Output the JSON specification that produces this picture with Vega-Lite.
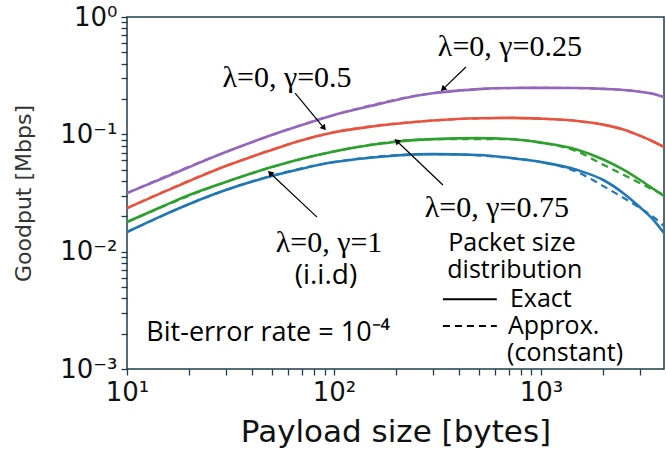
{
 "$schema": "https://vega.github.io/schema/vega-lite/v6.json",
 "width": 537, "height": 352,
 "autosize": {"type": "none"},
 "padding": {"left": 127, "top": 17, "right": 2, "bottom": 88},
 "background": "white",
 "config": {"view": {"stroke": "#1e3c4a", "strokeWidth": 1.5}},
 "datasets": {
  "curves": [
   {"x":10,"y":0.0316,"s":"0.25","t":"Exact"},{"x":15,"y":0.0424,"s":"0.25","t":"Exact"},{"x":20,"y":0.0526,"s":"0.25","t":"Exact"},{"x":30,"y":0.0706,"s":"0.25","t":"Exact"},{"x":50,"y":0.0986,"s":"0.25","t":"Exact"},{"x":70,"y":0.120,"s":"0.25","t":"Exact"},{"x":100,"y":0.146,"s":"0.25","t":"Exact"},{"x":150,"y":0.174,"s":"0.25","t":"Exact"},{"x":200,"y":0.196,"s":"0.25","t":"Exact"},{"x":250,"y":0.213,"s":"0.25","t":"Exact"},{"x":300,"y":0.224,"s":"0.25","t":"Exact"},{"x":400,"y":0.236,"s":"0.25","t":"Exact"},{"x":500,"y":0.243,"s":"0.25","t":"Exact"},{"x":700,"y":0.248,"s":"0.25","t":"Exact"},{"x":1000,"y":0.249,"s":"0.25","t":"Exact"},{"x":1500,"y":0.248,"s":"0.25","t":"Exact"},{"x":2000,"y":0.244,"s":"0.25","t":"Exact"},{"x":2500,"y":0.239,"s":"0.25","t":"Exact"},{"x":3000,"y":0.231,"s":"0.25","t":"Exact"},{"x":3500,"y":0.221,"s":"0.25","t":"Exact"},{"x":3930,"y":0.208,"s":"0.25","t":"Exact"},
   {"x":10,"y":0.0235,"s":"0.5","t":"Exact"},{"x":15,"y":0.0322,"s":"0.5","t":"Exact"},{"x":20,"y":0.0400,"s":"0.5","t":"Exact"},{"x":30,"y":0.0537,"s":"0.5","t":"Exact"},{"x":50,"y":0.0735,"s":"0.5","t":"Exact"},{"x":70,"y":0.0890,"s":"0.5","t":"Exact"},{"x":100,"y":0.104,"s":"0.5","t":"Exact"},{"x":150,"y":0.116,"s":"0.5","t":"Exact"},{"x":200,"y":0.123,"s":"0.5","t":"Exact"},{"x":300,"y":0.131,"s":"0.5","t":"Exact"},{"x":500,"y":0.137,"s":"0.5","t":"Exact"},{"x":700,"y":0.138,"s":"0.5","t":"Exact"},{"x":1000,"y":0.136,"s":"0.5","t":"Exact"},{"x":1500,"y":0.130,"s":"0.5","t":"Exact"},{"x":2000,"y":0.121,"s":"0.5","t":"Exact"},{"x":2500,"y":0.110,"s":"0.5","t":"Exact"},{"x":3000,"y":0.0975,"s":"0.5","t":"Exact"},{"x":3500,"y":0.0865,"s":"0.5","t":"Exact"},{"x":3930,"y":0.0779,"s":"0.5","t":"Exact"},
   {"x":10,"y":0.0179,"s":"0.75","t":"Exact"},{"x":15,"y":0.0245,"s":"0.75","t":"Exact"},{"x":20,"y":0.0304,"s":"0.75","t":"Exact"},{"x":30,"y":0.0392,"s":"0.75","t":"Exact"},{"x":50,"y":0.0526,"s":"0.75","t":"Exact"},{"x":70,"y":0.0620,"s":"0.75","t":"Exact"},{"x":100,"y":0.0715,"s":"0.75","t":"Exact"},{"x":150,"y":0.0810,"s":"0.75","t":"Exact"},{"x":200,"y":0.0865,"s":"0.75","t":"Exact"},{"x":300,"y":0.0910,"s":"0.75","t":"Exact"},{"x":500,"y":0.0928,"s":"0.75","t":"Exact"},{"x":700,"y":0.0912,"s":"0.75","t":"Exact"},{"x":1000,"y":0.0850,"s":"0.75","t":"Exact"},{"x":1500,"y":0.0740,"s":"0.75","t":"Exact"},{"x":2000,"y":0.0610,"s":"0.75","t":"Exact"},{"x":2500,"y":0.0500,"s":"0.75","t":"Exact"},{"x":3000,"y":0.0410,"s":"0.75","t":"Exact"},{"x":3500,"y":0.0342,"s":"0.75","t":"Exact"},{"x":3930,"y":0.0298,"s":"0.75","t":"Exact"},
   {"x":10,"y":0.0147,"s":"1","t":"Exact"},{"x":15,"y":0.0205,"s":"1","t":"Exact"},{"x":20,"y":0.0255,"s":"1","t":"Exact"},{"x":30,"y":0.0335,"s":"1","t":"Exact"},{"x":50,"y":0.0441,"s":"1","t":"Exact"},{"x":70,"y":0.0510,"s":"1","t":"Exact"},{"x":100,"y":0.0580,"s":"1","t":"Exact"},{"x":150,"y":0.0632,"s":"1","t":"Exact"},{"x":200,"y":0.0660,"s":"1","t":"Exact"},{"x":300,"y":0.0678,"s":"1","t":"Exact"},{"x":500,"y":0.0667,"s":"1","t":"Exact"},{"x":700,"y":0.0632,"s":"1","t":"Exact"},{"x":1000,"y":0.0581,"s":"1","t":"Exact"},{"x":1500,"y":0.0496,"s":"1","t":"Exact"},{"x":2000,"y":0.0408,"s":"1","t":"Exact"},{"x":2500,"y":0.0315,"s":"1","t":"Exact"},{"x":3000,"y":0.0240,"s":"1","t":"Exact"},{"x":3500,"y":0.0186,"s":"1","t":"Exact"},{"x":3930,"y":0.0144,"s":"1","t":"Exact"},
   {"x":10,"y":0.0316,"s":"0.25","t":"Approx"},{"x":30,"y":0.0706,"s":"0.25","t":"Approx"},{"x":100,"y":0.146,"s":"0.25","t":"Approx"},{"x":300,"y":0.224,"s":"0.25","t":"Approx"},{"x":700,"y":0.248,"s":"0.25","t":"Approx"},{"x":1000,"y":0.249,"s":"0.25","t":"Approx"},{"x":1500,"y":0.248,"s":"0.25","t":"Approx"},{"x":2000,"y":0.244,"s":"0.25","t":"Approx"},{"x":2500,"y":0.239,"s":"0.25","t":"Approx"},{"x":3000,"y":0.231,"s":"0.25","t":"Approx"},{"x":3500,"y":0.221,"s":"0.25","t":"Approx"},{"x":3930,"y":0.208,"s":"0.25","t":"Approx"},
   {"x":10,"y":0.0235,"s":"0.5","t":"Approx"},{"x":30,"y":0.0537,"s":"0.5","t":"Approx"},{"x":100,"y":0.104,"s":"0.5","t":"Approx"},{"x":300,"y":0.131,"s":"0.5","t":"Approx"},{"x":700,"y":0.138,"s":"0.5","t":"Approx"},{"x":1000,"y":0.136,"s":"0.5","t":"Approx"},{"x":1500,"y":0.130,"s":"0.5","t":"Approx"},{"x":2000,"y":0.121,"s":"0.5","t":"Approx"},{"x":2500,"y":0.110,"s":"0.5","t":"Approx"},{"x":3000,"y":0.0975,"s":"0.5","t":"Approx"},{"x":3500,"y":0.0865,"s":"0.5","t":"Approx"},{"x":3930,"y":0.0779,"s":"0.5","t":"Approx"},
   {"x":10,"y":0.0179,"s":"0.75","t":"Approx"},{"x":30,"y":0.0392,"s":"0.75","t":"Approx"},{"x":100,"y":0.0715,"s":"0.75","t":"Approx"},{"x":300,"y":0.0910,"s":"0.75","t":"Approx"},{"x":700,"y":0.0912,"s":"0.75","t":"Approx"},{"x":1000,"y":0.0850,"s":"0.75","t":"Approx"},{"x":1500,"y":0.0712,"s":"0.75","t":"Approx"},{"x":2000,"y":0.0550,"s":"0.75","t":"Approx"},{"x":2500,"y":0.0452,"s":"0.75","t":"Approx"},{"x":3000,"y":0.0385,"s":"0.75","t":"Approx"},{"x":3500,"y":0.0335,"s":"0.75","t":"Approx"},{"x":3930,"y":0.0304,"s":"0.75","t":"Approx"},
   {"x":10,"y":0.0147,"s":"1","t":"Approx"},{"x":30,"y":0.0335,"s":"1","t":"Approx"},{"x":100,"y":0.0580,"s":"1","t":"Approx"},{"x":300,"y":0.0678,"s":"1","t":"Approx"},{"x":700,"y":0.0632,"s":"1","t":"Approx"},{"x":1000,"y":0.0581,"s":"1","t":"Approx"},{"x":1500,"y":0.0477,"s":"1","t":"Approx"},{"x":2000,"y":0.0362,"s":"1","t":"Approx"},{"x":2500,"y":0.0288,"s":"1","t":"Approx"},{"x":3000,"y":0.0236,"s":"1","t":"Approx"},{"x":3500,"y":0.0197,"s":"1","t":"Approx"},{"x":3930,"y":0.0165,"s":"1","t":"Approx"}
  ],
  "arrows": [
   {"id":"a1","x":434,"y":0.375,"x2":336,"y2":0.243},
   {"id":"a2","x":64.9,"y":0.225,"x2":89.5,"y2":0.113},
   {"id":"a3","x":336,"y":0.0370,"x2":201,"y2":0.0877},
   {"id":"a4","x":82.8,"y":0.0197,"x2":49.1,"y2":0.0468}
  ],
  "serif": [
   {"x":708,"y":0.555,"text":"λ=0, γ=0.25"},
   {"x":59.3,"y":0.302,"text":"λ=0, γ=0.5"},
   {"x":612,"y":0.0235,"text":"λ=0, γ=0.75"},
   {"x":94.6,"y":0.01184,"text":"λ=0, γ=1"}
  ],
  "sansc": [
   {"x":724,"y":0.01184,"text":"Packet size"},
   {"x":748,"y":0.00697,"text":"distribution"}
  ],
  "iid": [
   {"x":91.4,"y":0.00619,"text":"(i.i.d)"}
  ],
  "sansl": [
   {"x":708,"y":0.00394,"text":"Exact"},
   {"x":693,"y":0.00232,"text":"Approx."},
   {"x":686,"y":0.00137,"text":"(constant)"}
  ],
  "ber": [
   {"x":12.4,"y":0.00202,"text":"Bit-error rate = 10⁻⁴"}
  ],
  "legend": [
   {"x":336,"x2":612,"y":0.00394,"t":"Exact"},
   {"x":336,"x2":612,"y":0.00232,"t":"Approx"}
  ]
 },
 "layer": [
  {
   "data": {"name": "curves"},
   "transform": [{"filter": "datum.t == 'Exact'"}],
   "mark": {"type": "line", "strokeWidth": 2.6, "clip": true, "interpolate": "monotone"},
   "encoding": {
    "x": {"field": "x", "type": "quantitative",
     "scale": {"type": "log", "domain": [10, 3930], "nice": false},
     "axis": {"title": "Payload size [bytes]", "grid": false, "domain": false, "ticks": true,
      "values": [10,20,30,40,50,60,70,80,90,100,200,300,400,500,600,700,800,900,1000,2000,3000],
      "labelExpr": "datum.value==10?'10¹':datum.value==100?'10²':datum.value==1000?'10³':''",
      "labelOverlap": false, "labelFlush": false, "labelFont": "DejaVu Sans", "labelFontSize": 26, "labelColor": "#111", "labelPadding": 4,
      "tickSize": 6, "tickColor": "#1e3c4a", "tickWidth": 1.3,
      "titleFont": "DejaVu Sans", "titleFontSize": 31, "titleFontWeight": "normal", "titleColor": "#111",
      "titlePadding": 12}},
    "y": {"field": "y", "type": "quantitative",
     "scale": {"type": "log", "domain": [0.001, 1], "nice": false},
     "axis": {"title": "Goodput [Mbps]", "grid": false, "domain": false, "ticks": true,
      "values": [0.001,0.002,0.003,0.004,0.005,0.006,0.007,0.008,0.009,0.01,0.02,0.03,0.04,0.05,0.06,0.07,0.08,0.09,0.1,0.2,0.3,0.4,0.5,0.6,0.7,0.8,0.9,1],
      "labelExpr": "datum.value==1?'10⁰':datum.value==0.1?'10⁻¹':datum.value==0.01?'10⁻²':datum.value==0.001?'10⁻³':''",
      "labelOverlap": false, "labelFlush": false, "labelFont": "DejaVu Sans", "labelFontSize": 26, "labelColor": "#111", "labelPadding": 4,
      "tickSize": 6, "tickColor": "#1e3c4a", "tickWidth": 1.3,
      "titleFont": "DejaVu Sans", "titleFontSize": 22, "titleFontWeight": "normal", "titleColor": "#333",
      "titlePadding": 24}},
    "color": {"field": "s", "type": "nominal", "legend": null,
     "scale": {"domain": ["0.25","0.5","0.75","1"], "range": ["#9467bd","#e8533f","#2ca02c","#1f77b4"]}},
    "detail": {"field": "s"}
   }
  },
  {
   "data": {"name": "curves"},
   "transform": [{"filter": "datum.t == 'Approx'"}],
   "mark": {"type": "line", "strokeWidth": 2.2, "strokeDash": [7, 5], "clip": true, "interpolate": "monotone"},
   "encoding": {
    "x": {"field": "x", "type": "quantitative"},
    "y": {"field": "y", "type": "quantitative"},
    "color": {"field": "s", "type": "nominal", "legend": null},
    "detail": {"field": "s"}
   }
  },
  {
   "data": {"name": "arrows"},
   "mark": {"type": "rule", "color": "black", "strokeWidth": 1.2},
   "encoding": {
    "x": {"field": "x", "type": "quantitative"},
    "y": {"field": "y", "type": "quantitative"},
    "x2": {"field": "x2"},
    "y2": {"field": "y2"}
   }
  },
  {
   "data": {"name": "arrows"},
   "transform": [{"filter": "datum.id == 'a1'"}],
   "mark": {"type": "point", "shape": "triangle-up", "filled": true, "color": "black", "opacity": 1, "size": 45, "angle": 226},
   "encoding": {
    "x": {"field": "x2", "type": "quantitative"},
    "y": {"field": "y2", "type": "quantitative"}
   }
  },
  {
   "data": {"name": "arrows"},
   "transform": [{"filter": "datum.id == 'a2'"}],
   "mark": {"type": "point", "shape": "triangle-up", "filled": true, "color": "black", "opacity": 1, "size": 45, "angle": 140},
   "encoding": {
    "x": {"field": "x2", "type": "quantitative"},
    "y": {"field": "y2", "type": "quantitative"}
   }
  },
  {
   "data": {"name": "arrows"},
   "transform": [{"filter": "datum.id == 'a3' || datum.id == 'a4'"}],
   "mark": {"type": "point", "shape": "triangle-up", "filled": true, "color": "black", "opacity": 1, "size": 45, "angle": 313},
   "encoding": {
    "x": {"field": "x2", "type": "quantitative"},
    "y": {"field": "y2", "type": "quantitative"}
   }
  },
  {
   "data": {"name": "serif"},
   "mark": {"type": "text", "font": "Liberation Serif", "fontSize": 30, "color": "black", "align": "center", "baseline": "middle"},
   "encoding": {
    "x": {"field": "x", "type": "quantitative"},
    "y": {"field": "y", "type": "quantitative"},
    "text": {"field": "text"}
   }
  },
  {
   "data": {"name": "sansc"},
   "mark": {"type": "text", "font": "Open Sans", "fontSize": 25, "color": "black", "align": "center", "baseline": "middle"},
   "encoding": {
    "x": {"field": "x", "type": "quantitative"},
    "y": {"field": "y", "type": "quantitative"},
    "text": {"field": "text"}
   }
  },
  {
   "data": {"name": "iid"},
   "mark": {"type": "text", "font": "Open Sans", "fontSize": 28, "color": "black", "align": "center", "baseline": "middle"},
   "encoding": {
    "x": {"field": "x", "type": "quantitative"},
    "y": {"field": "y", "type": "quantitative"},
    "text": {"field": "text"}
   }
  },
  {
   "data": {"name": "sansl"},
   "mark": {"type": "text", "font": "Open Sans", "fontSize": 25, "color": "black", "align": "left", "baseline": "middle"},
   "encoding": {
    "x": {"field": "x", "type": "quantitative"},
    "y": {"field": "y", "type": "quantitative"},
    "text": {"field": "text"}
   }
  },
  {
   "data": {"name": "ber"},
   "mark": {"type": "text", "font": "Open Sans", "fontSize": 27, "color": "black", "align": "left", "baseline": "middle"},
   "encoding": {
    "x": {"field": "x", "type": "quantitative"},
    "y": {"field": "y", "type": "quantitative"},
    "text": {"field": "text"}
   }
  },
  {
   "data": {"name": "legend"},
   "transform": [{"filter": "datum.t == 'Exact'"}],
   "mark": {"type": "rule", "color": "black", "strokeWidth": 2},
   "encoding": {
    "x": {"field": "x", "type": "quantitative"},
    "x2": {"field": "x2"},
    "y": {"field": "y", "type": "quantitative"}
   }
  },
  {
   "data": {"name": "legend"},
   "transform": [{"filter": "datum.t == 'Approx'"}],
   "mark": {"type": "rule", "color": "black", "strokeWidth": 2, "strokeDash": [7, 5]},
   "encoding": {
    "x": {"field": "x", "type": "quantitative"},
    "x2": {"field": "x2"},
    "y": {"field": "y", "type": "quantitative"}
   }
  }
 ]
}
